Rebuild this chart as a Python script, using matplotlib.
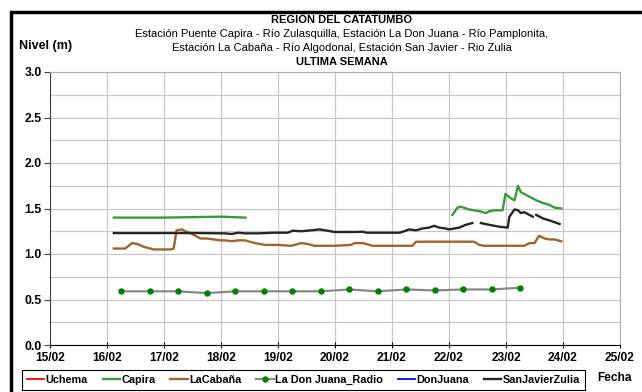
import numpy as np
import matplotlib.pyplot as plt
from matplotlib.patches import Rectangle

plt.rcParams['font.family'] = ['Liberation Sans', 'DejaVu Sans']

nan = np.nan

# dias de febrero (fraccion de dia) y niveles en metros
capira_dia = [16.12, 17.0, 18.0, 18.43, nan,
              22.06, 22.15, 22.21, 22.35, 22.53, 22.65, 22.71, 22.79, 22.94, 22.99,
              23.09, 23.15, 23.21, 23.26, 23.38, 23.53, 23.65, 23.76, 23.85, 23.97]
capira_nivel = [1.40, 1.40, 1.41, 1.40, nan,
                1.43, 1.51, 1.52, 1.49, 1.47, 1.45, 1.47, 1.48, 1.48, 1.66,
                1.61, 1.59, 1.75, 1.68, 1.64, 1.59, 1.56, 1.54, 1.51, 1.50]

cabana_dia = [16.12, 16.32, 16.44, 16.53, 16.64, 16.82, 17.11, 17.17, 17.22, 17.32,
              17.37, 17.46, 17.55, 17.64, 17.75, 17.87, 17.99, 18.07, 18.19, 18.30,
              18.42, 18.59, 18.77, 19.0, 19.23, 19.41, 19.52, 19.64, 19.99, 20.28,
              20.34, 20.49, 20.66, 21.36, 21.42, 22.44, 22.53, 22.62, 23.32, 23.41,
              23.50, 23.58, 23.68, 23.76, 23.85, 23.97]
cabana_nivel = [1.06, 1.06, 1.12, 1.11, 1.08, 1.05, 1.05, 1.06, 1.26, 1.27,
                1.25, 1.23, 1.20, 1.17, 1.17, 1.16, 1.15, 1.15, 1.14, 1.15,
                1.15, 1.12, 1.10, 1.10, 1.09, 1.12, 1.11, 1.09, 1.09, 1.10,
                1.12, 1.12, 1.09, 1.09, 1.135, 1.135, 1.10, 1.09, 1.09, 1.12,
                1.12, 1.20, 1.17, 1.16, 1.16, 1.14]

sanjavier_dia = [16.12, 16.6, 17.0, 17.6, 18.07, 18.19, 18.30, 18.42, 18.65, 18.94,
                 19.17, 19.26, 19.41, 19.58, 19.73, 19.87, 19.99, 20.34, 20.49, 20.55,
                 21.13, 21.19, 21.30, 21.42, 21.53, 21.65, 21.74, 21.83, 21.94, 22.0,
                 22.09, 22.18, 22.29, 22.41, nan, 22.56, 22.71, 22.88, 23.03, 23.06,
                 23.15, 23.21, 23.26, 23.32, 23.38, 23.47, nan, 23.53, 23.65, 23.76, 23.94]
sanjavier_nivel = [1.23, 1.23, 1.23, 1.23, 1.227, 1.22, 1.234, 1.227, 1.227, 1.234,
                   1.234, 1.256, 1.25, 1.26, 1.27, 1.256, 1.242, 1.242, 1.245, 1.234,
                   1.234, 1.245, 1.27, 1.26, 1.28, 1.29, 1.31, 1.29, 1.28, 1.27,
                   1.28, 1.29, 1.32, 1.34, nan, 1.34, 1.32, 1.30, 1.29, 1.41,
                   1.49, 1.48, 1.45, 1.46, 1.44, 1.41, nan, 1.43, 1.39, 1.37, 1.33]

radio_dia = [16.25, 16.75, 17.25, 17.75, 18.25, 18.75, 19.25, 19.75,
             20.25, 20.75, 21.25, 21.75, 22.25, 22.75, 23.25]
radio_nivel = [0.59, 0.59, 0.59, 0.57, 0.59, 0.59, 0.59, 0.59,
               0.61, 0.59, 0.61, 0.60, 0.61, 0.61, 0.63]

dias = [15, 16, 17, 18, 19, 20, 21, 22, 23, 24, 25]
etiquetas = [f"{d}/02" for d in dias]

fig = plt.figure(figsize=(6.42, 3.92), dpi=100)
ax = fig.add_axes([50/642, 1 - 345/392, 570/642, 273/392])

ax.plot([], [], color='#ff0000', lw=1.3, label='Uchema')
ax.plot(capira_dia, capira_nivel, color='#3a9a3a', lw=1.7, label='Capira')
ax.plot(cabana_dia, cabana_nivel, color='#a0652e', lw=1.7, label='LaCabaña')
ax.plot(radio_dia, radio_nivel, color='#888888', lw=1.6, marker='o', ms=3.6,
        mfc='#008000', mec='#008000', label='La Don Juana_Radio')
ax.plot([], [], color='#0000ff', lw=1.3, label='DonJuana')
ax.plot(sanjavier_dia, sanjavier_nivel, color='#262626', lw=1.7, label='SanJavierZulia')

ax.set_xlim(15, 25)
ax.set_ylim(0, 3)
ax.set_xticks(dias)
ax.set_xticklabels(etiquetas, fontweight='bold', fontsize=8.6)
ax.set_yticks([0, 0.5, 1.0, 1.5, 2.0, 2.5, 3.0])
ax.set_yticklabels(['0.0', '0.5', '1.0', '1.5', '2.0', '2.5', '3.0'],
                   fontweight='bold', fontsize=8.8)
ax.set_yticks(np.arange(0, 3.01, 0.25), minor=True)
ax.grid(which='both', color='#c8c8c8', lw=0.9)
ax.set_axisbelow(True)
ax.tick_params(axis='y', which='major', length=4, width=0.8, color='#404040', pad=2)
ax.tick_params(axis='y', which='minor', length=0)
ax.tick_params(axis='x', length=4, width=0.8, direction='inout', pad=3)
for s in ['top', 'right']:
    ax.spines[s].set_color('#b0b0b0')
ax.spines['left'].set_color('#404040')
ax.spines['bottom'].set_color('#000000')

cx = 342 / 642
fig.text(cx, 1 - 20/392, 'REGIÓN DEL CATATUMBO', ha='center', va='center',
         fontsize=8, fontweight='bold')
fig.text(cx, 1 - 34/392, 'Estación Puente Capira - Río Zulasquilla, Estación La Don Juana - Río Pamplonita,',
         ha='center', va='center', fontsize=8)
fig.text(cx, 1 - 48/392, 'Estación La Cabaña - Río Algodonal, Estación San Javier - Rio Zulia',
         ha='center', va='center', fontsize=8)
fig.text(cx, 1 - 62/392, 'ULTIMA SEMANA', ha='center', va='center',
         fontsize=8, fontweight='bold')
fig.text(19/642, 1 - 46/392, 'Nivel (m)', ha='left', va='center',
         fontsize=9, fontweight='bold')
fig.text(614/642, 1 - 378/392, 'Fecha', ha='center', va='center',
         fontsize=8.6, fontweight='bold')

leg = fig.legend(loc='upper left', bbox_to_anchor=(22/642, 1 - 370/392), ncol=6,
                 frameon=True, fancybox=False, edgecolor='black', framealpha=1,
                 prop={'weight': 'bold', 'size': 7.8}, handlelength=1.6,
                 handletextpad=0.15, columnspacing=1.35, borderpad=0.45,
                 borderaxespad=0)
leg.get_frame().set_linewidth(0.8)

# marco exterior
fig.patches.append(Rectangle((11.5/642, -0.2), 1.2, 1.2 - 11.5/392,
                             transform=fig.transFigure, fill=False,
                             edgecolor='black', lw=2.5, clip_on=False))

fig.savefig('out.png', dpi=100)
